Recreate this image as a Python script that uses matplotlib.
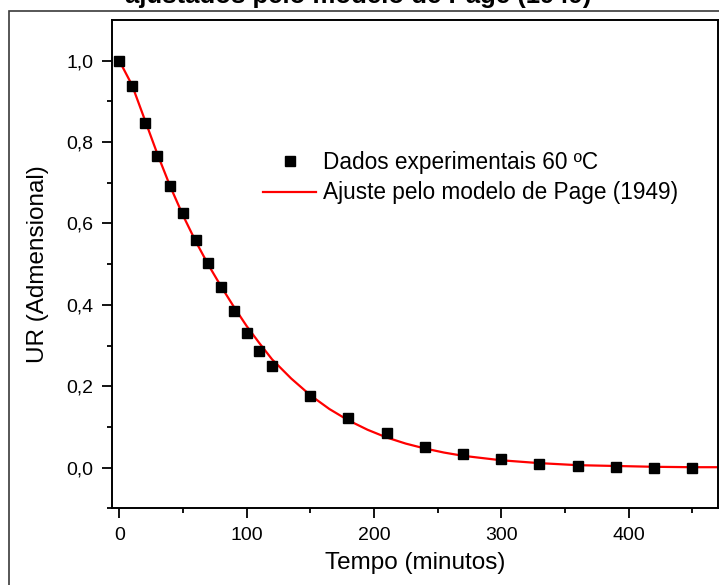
import matplotlib
matplotlib.use("Agg")
import matplotlib.pyplot as plt
from matplotlib.patches import Rectangle

plt.rcParams['font.family'] = ['Liberation Sans', 'DejaVu Sans']

# experimental points (minutes, UR)
tempo = [0, 10, 20, 30, 40, 50, 60, 70, 80, 90, 100, 110, 120,
         150, 180, 210, 240, 270, 300, 330, 360, 390, 420, 450]
ur = [1.000, 0.937, 0.846, 0.765, 0.693, 0.626, 0.560, 0.504, 0.444, 0.385, 0.331, 0.287, 0.250,
      0.177, 0.121, 0.084, 0.051, 0.034, 0.021, 0.010, 0.004, 0.001, 0.000, 0.000]

# Page (1949) fitted curve
tempo_fit = [0, 10, 20, 30, 40, 50, 60, 70, 80, 90, 100, 110, 120, 135, 150, 165, 180, 195,
             210, 225, 240, 255, 270, 300, 330, 360, 390, 420, 450, 475]
ur_fit = [1.000, 0.940, 0.855, 0.770, 0.691, 0.620, 0.556, 0.498, 0.445, 0.395, 0.348, 0.306,
          0.266, 0.219, 0.178, 0.144, 0.116, 0.093, 0.074, 0.059, 0.047, 0.037, 0.029, 0.018,
          0.011, 0.006, 0.004, 0.002, 0.001, 0.001]

xticks = [0, 100, 200, 300, 400]
yticks = [0.0, 0.2, 0.4, 0.6, 0.8, 1.0]

fig = plt.figure(figsize=(7.19, 5.85), dpi=100)
ax = fig.add_axes([112.3 / 719, 1 - 508.3 / 585, 605.4 / 719, 488.3 / 585])

ax.plot(tempo, ur, 's', color='black', ms=7, label='Dados experimentais 60 ºC', zorder=3)
ax.plot(tempo_fit, ur_fit, '-', color='#ff0000', lw=1.6, label='Ajuste pelo modelo de Page (1949)')

ax.set_xlim(-5.5, 470)
ax.set_ylim(-0.1, 1.1)
ax.set_xticks(xticks)
ax.set_xticks([50, 150, 250, 350, 450], minor=True)
ax.set_yticks(yticks)
ax.set_yticks([-0.1, 0.1, 0.3, 0.5, 0.7, 0.9], minor=True)
ax.set_yticklabels([f"{v:.1f}".replace('.', ',') for v in yticks])

ax.tick_params(which='major', direction='out', length=7, width=1.3, labelsize=14, pad=6.5)
ax.tick_params(which='minor', direction='out', length=3.5, width=1.3)
for s in ax.spines.values():
    s.set_linewidth(1.4)

ax.set_xlabel('Tempo (minutos)', fontsize=17.5)
ax.set_ylabel('UR (Admensional)', fontsize=17.5)
ax.xaxis.set_label_coords(0.5, -0.089)
ax.yaxis.set_label_coords(-0.104, 0.5)

ax.legend(loc='upper left', bbox_to_anchor=(263 / 719, 1 - 151 / 585),
          bbox_transform=fig.transFigure, frameon=False, fontsize=16.3,
          handlelength=2.35, handletextpad=0.28, labelspacing=0.33,
          borderpad=0, borderaxespad=0)

# outer frame and cut-off caption line
fig.add_artist(Rectangle((8.5 / 719, -0.1), 1.2, 1.1 - 10.7 / 585,
                         transform=fig.transFigure, fill=False, ec='#3a3a3a', lw=1.2))
fig.text(358 / 719, 1 - 3.5 / 585, 'ajustados pelo modelo de Page (1949)',
         ha='center', va='baseline', fontsize=18.5, fontweight='bold')

fig.savefig('out.png', dpi=100)
